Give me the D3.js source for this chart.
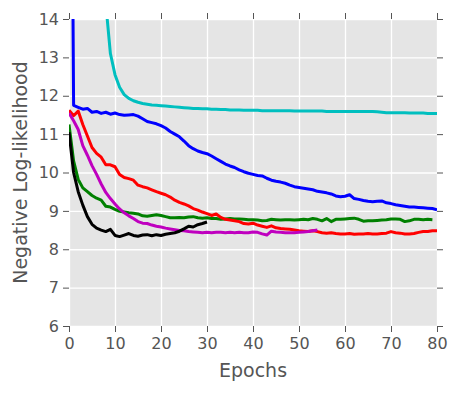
<!DOCTYPE html>
<html>
  <head>
    <script src="https://d3js.org/d3.v7.min.js"></script>
    <style>
      html, body { margin: 0; padding: 0; background: #fff; overflow: hidden; }
      svg { display: block; }
      .axis .domain, .grid .domain { display: none; }
      .axis .tick line { stroke: #555; stroke-width: 1; }
      .grid .tick line { stroke: #fff; stroke-width: 1.3; }
    </style>
  </head>
  <body>
    <svg width="458" height="393"></svg>
    <script>
      const xTicks = [0, 10, 20, 30, 40, 50, 60, 70, 80];
      const yTicks = [6, 7, 8, 9, 10, 11, 12, 13, 14];

      // one value per epoch, starting at epoch 0
      const blue = [30, 11.75, 11.7, 11.65, 11.67, 11.57, 11.59, 11.54, 11.57, 11.52,
        11.55, 11.51, 11.49, 11.5, 11.51, 11.47, 11.4, 11.33, 11.3, 11.27,
        11.22, 11.16, 11.07, 11.0, 10.93, 10.82, 10.7, 10.62, 10.56, 10.52,
        10.49, 10.43, 10.36, 10.29, 10.22, 10.17, 10.13, 10.07, 10.02, 9.98,
        9.95, 9.92, 9.91, 9.85, 9.8, 9.77, 9.75, 9.72, 9.67, 9.63,
        9.61, 9.59, 9.57, 9.55, 9.51, 9.49, 9.47, 9.44, 9.39, 9.37,
        9.38, 9.42, 9.32, 9.3, 9.27, 9.25, 9.24, 9.25, 9.26, 9.21,
        9.19, 9.16, 9.14, 9.12, 9.1, 9.1, 9.09, 9.08, 9.07, 9.06, 9.03];
      const cyan = [40, 30, 25, 21, 19, 17.5, 16.3, 15.3, 14.4, 13.1,
        12.55, 12.22, 12.03, 11.93, 11.87, 11.83, 11.8, 11.78, 11.76, 11.75,
        11.74, 11.73, 11.72, 11.71, 11.7, 11.69, 11.68, 11.67, 11.67, 11.66,
        11.66, 11.65, 11.65, 11.64, 11.64, 11.63, 11.63, 11.63, 11.62, 11.62,
        11.62, 11.62, 11.61, 11.61, 11.61, 11.61, 11.61, 11.61, 11.61, 11.6,
        11.6, 11.6, 11.6, 11.6, 11.6, 11.6, 11.59, 11.59, 11.59, 11.59,
        11.59, 11.59, 11.59, 11.59, 11.59, 11.59, 11.59, 11.58, 11.57, 11.56,
        11.56, 11.56, 11.56, 11.56, 11.55, 11.55, 11.55, 11.55, 11.54, 11.54, 11.54];
      const green = [11.25, 10.3, 9.82, 9.6, 9.5, 9.4, 9.33, 9.28, 9.12, 9.1,
        9.04, 8.99, 8.97, 8.95, 8.94, 8.92, 8.87, 8.86, 8.88, 8.9,
        8.88, 8.85, 8.82, 8.82, 8.83, 8.82, 8.84, 8.85, 8.82, 8.81,
        8.82, 8.8, 8.8, 8.78, 8.79, 8.8, 8.79, 8.79, 8.78, 8.77,
        8.77, 8.76, 8.74, 8.75, 8.78, 8.77, 8.76, 8.77, 8.77, 8.76,
        8.77, 8.78, 8.77, 8.8, 8.78, 8.74, 8.8, 8.72, 8.78, 8.78,
        8.79, 8.8, 8.81, 8.78, 8.73, 8.74, 8.74, 8.75, 8.76, 8.77,
        8.79, 8.79, 8.78, 8.72, 8.74, 8.78, 8.78, 8.77, 8.78, 8.77];
      const red = [11.62, 11.48, 11.6, 11.25, 10.95, 10.65, 10.5, 10.4, 10.2, 10.2,
        10.15, 9.95, 9.87, 9.84, 9.8, 9.67, 9.63, 9.6, 9.55, 9.5,
        9.46, 9.42, 9.36, 9.28, 9.22, 9.18, 9.13, 9.06, 9.02, 8.97,
        8.93, 8.88, 8.92, 8.83, 8.78, 8.76, 8.74, 8.72, 8.67, 8.66,
        8.68, 8.63, 8.6, 8.57, 8.61, 8.56, 8.54, 8.53, 8.52, 8.5,
        8.48, 8.47, 8.46, 8.48, 8.46, 8.43, 8.42, 8.43, 8.41, 8.4,
        8.4, 8.41, 8.39, 8.4, 8.4, 8.41, 8.4, 8.4, 8.41, 8.42,
        8.46, 8.43, 8.42, 8.4, 8.4, 8.41, 8.44, 8.46, 8.46, 8.48, 8.48];
      const magenta = [11.55, 11.35, 11.12, 10.7, 10.45, 10.18, 9.95, 9.7, 9.48, 9.32,
        9.18, 9.05, 8.95, 8.87, 8.8, 8.72, 8.68, 8.67, 8.63, 8.6,
        8.58, 8.55, 8.53, 8.51, 8.49, 8.48, 8.46, 8.45, 8.44, 8.43,
        8.44, 8.43, 8.44, 8.44, 8.43, 8.44, 8.43, 8.44, 8.43, 8.43,
        8.45, 8.44, 8.4, 8.37, 8.47, 8.45, 8.44, 8.43, 8.43, 8.43,
        8.44, 8.45, 8.46, 8.48, 8.5];
      const black = [11.05, 10.0, 9.5, 9.15, 8.85, 8.65, 8.55, 8.5, 8.46, 8.52,
        8.36, 8.33, 8.37, 8.41, 8.36, 8.34, 8.37, 8.38, 8.35, 8.38,
        8.36, 8.39, 8.41, 8.43, 8.47, 8.53, 8.6, 8.58, 8.64, 8.67, 8.71];

      const series = [
        { values: blue, color: "#0000ff" },
        { values: cyan, color: "#00bfbf" },
        { values: green, color: "#008000" },
        { values: red, color: "#ff0000" },
        { values: magenta, color: "#bf00bf" },
        { values: black, color: "#000000" }
      ];

      const font = "DejaVu Sans";
      const svg = d3.select("svg");
      const margin = { top: 19, right: 21, bottom: 67, left: 69 };
      const width = +svg.attr("width"), height = +svg.attr("height");
      const innerWidth = width - margin.left - margin.right;
      const innerHeight = height - margin.top - margin.bottom;

      const xScale = d3.scaleLinear().domain([0, 80]).range([0, innerWidth]);
      const yScale = d3.scaleLinear().domain([6, 14]).range([innerHeight, 0]);

      const g = svg.append("g")
        .attr("transform", `translate(${margin.left}, ${margin.top})`);

      g.append("rect")
        .attr("width", innerWidth)
        .attr("height", innerHeight)
        .attr("fill", "#e5e5e5");

      g.append("g").attr("class", "grid")
        .attr("transform", `translate(0, ${innerHeight})`)
        .call(d3.axisBottom(xScale).tickValues(xTicks).tickSize(-innerHeight))
        .call(a => a.selectAll("text").remove());
      g.append("g").attr("class", "grid")
        .call(d3.axisLeft(yScale).tickValues(yTicks).tickSize(-innerWidth))
        .call(a => a.selectAll("text").remove());

      g.append("clipPath").attr("id", "clip")
        .append("rect").attr("width", innerWidth).attr("height", innerHeight);

      const line = d3.line()
        .x((d, i) => xScale(i))
        .y(d => yScale(d));

      g.append("g").attr("clip-path", "url(#clip)")
        .selectAll("path").data(series).enter().append("path")
          .attr("fill", "none")
          .attr("stroke", d => d.color)
          .attr("stroke-width", 3)
          .attr("stroke-linejoin", "round")
          .attr("d", d => line(d.values));

      // ticks on all four sides, labels on left and bottom only
      function styleTicks(a) {
        a.attr("font-family", font).attr("font-size", 16);
        a.selectAll(".tick text").attr("fill", "#555");
      }
      g.append("g").attr("class", "axis")
        .attr("transform", `translate(0, ${innerHeight})`)
        .call(d3.axisBottom(xScale).tickValues(xTicks).tickSize(6).tickPadding(6))
        .call(styleTicks);
      g.append("g").attr("class", "axis")
        .call(d3.axisLeft(yScale).tickValues(yTicks).tickSize(6).tickPadding(4))
        .call(styleTicks);
      g.append("g").attr("class", "axis")
        .call(d3.axisTop(xScale).tickValues(xTicks).tickSize(6))
        .call(a => a.selectAll("text").remove());
      g.append("g").attr("class", "axis")
        .attr("transform", `translate(${innerWidth}, 0)`)
        .call(d3.axisRight(yScale).tickValues(yTicks).tickSize(6))
        .call(a => a.selectAll("text").remove());

      g.append("text")
        .attr("x", innerWidth / 2)
        .attr("y", innerHeight + 51)
        .attr("text-anchor", "middle")
        .attr("font-family", font).attr("font-size", 19).attr("fill", "#555")
        .text("Epochs");
      g.append("text")
        .attr("transform", "rotate(-90)")
        .attr("x", -innerHeight / 2)
        .attr("y", -42)
        .attr("text-anchor", "middle")
        .attr("font-family", font).attr("font-size", 19).attr("fill", "#555")
        .text("Negative Log-likelihood");
    </script>
  </body>
</html>
